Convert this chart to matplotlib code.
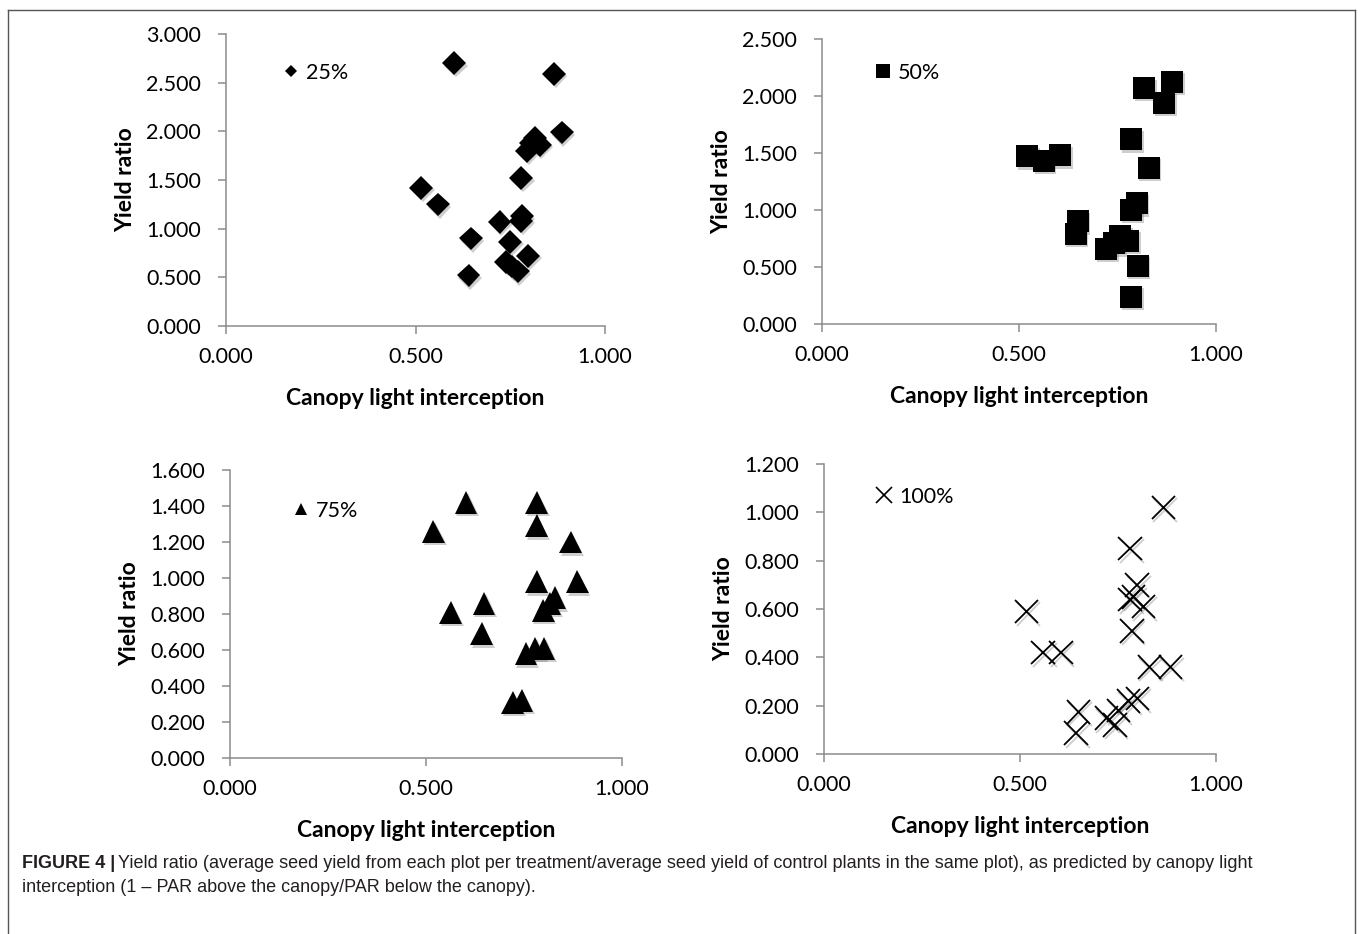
import matplotlib
matplotlib.use("Agg")
import matplotlib.pyplot as plt
import matplotlib.patheffects as pe
from matplotlib.lines import Line2D

# canopy light interception (x) and yield ratio (y), one pair of lists per treatment
x_25 = [0.602, 0.865, 0.886, 0.815, 0.828, 0.805, 0.794, 0.779, 0.515, 0.559,
        0.722, 0.781, 0.779, 0.646, 0.750, 0.797, 0.739, 0.755, 0.770, 0.640]
y_25 = [2.70, 2.59, 1.99, 1.93, 1.86, 1.88, 1.80, 1.52, 1.42, 1.25,
        1.07, 1.13, 1.08, 0.90, 0.865, 0.72, 0.66, 0.61, 0.56, 0.52]

x_50 = [0.888, 0.817, 0.868, 0.784, 0.829, 0.521, 0.563, 0.604, 0.799, 0.784,
        0.649, 0.644, 0.722, 0.756, 0.777, 0.741, 0.801, 0.784]
y_50 = [2.125, 2.07, 1.94, 1.62, 1.37, 1.47, 1.43, 1.48, 1.06, 1.00,
        0.90, 0.79, 0.66, 0.77, 0.73, 0.71, 0.51, 0.24]

x_75 = [0.602, 0.782, 0.519, 0.782, 0.869, 0.782, 0.886, 0.829, 0.816, 0.799,
        0.648, 0.563, 0.642, 0.801, 0.778, 0.755, 0.744, 0.721]
y_75 = [1.42, 1.42, 1.26, 1.29, 1.20, 0.98, 0.98, 0.89, 0.86, 0.82,
        0.86, 0.81, 0.69, 0.61, 0.61, 0.58, 0.32, 0.31]

x_100 = [0.866, 0.781, 0.799, 0.781, 0.815, 0.790, 0.785, 0.517, 0.559, 0.604,
         0.830, 0.884, 0.649, 0.643, 0.800, 0.777, 0.751, 0.721, 0.742]
y_100 = [1.02, 0.85, 0.70, 0.64, 0.61, 0.65, 0.51, 0.59, 0.42, 0.42,
         0.36, 0.36, 0.175, 0.086, 0.23, 0.22, 0.18, 0.148, 0.12]

x_ticks = [0.0, 0.5, 1.0]
y_ticks_25 = [0.0, 0.5, 1.0, 1.5, 2.0, 2.5, 3.0]
y_ticks_50 = [0.0, 0.5, 1.0, 1.5, 2.0, 2.5]
y_ticks_75 = [0.0, 0.2, 0.4, 0.6, 0.8, 1.0, 1.2, 1.4, 1.6]
y_ticks_100 = [0.0, 0.2, 0.4, 0.6, 0.8, 1.0, 1.2]

caption_bold = "FIGURE 4 |"
caption_1 = ("Yield ratio (average seed yield from each plot per treatment/average seed yield of "
             "control plants in the same plot), as predicted by canopy light")
caption_2 = "interception (1 \u2013 PAR above the canopy/PAR below the canopy)."

W, H = 1360, 934
fig = plt.figure(figsize=(W / 100, H / 100), dpi=100)
plt.rcParams['font.family'] = ['Lato', 'DejaVu Sans']

grey = "#8c8c8c"


def px_axes(x0, x1, y0, y1):
    # pixel box (left, right, bottom-of-axis, top-of-axis) -> figure fraction
    return fig.add_axes([x0 / W, 1 - y0 / H, (x1 - x0) / W, (y0 - y1) / H])


def style(ax, yticks):
    ax.set_xlim(0, 1)
    ax.set_ylim(0, yticks[-1])
    ax.set_xticks(x_ticks)
    ax.set_yticks(yticks)
    ax.set_xticklabels([f"{v:.3f}" for v in x_ticks])
    ax.set_yticklabels([f"{v:.3f}" for v in yticks])
    for s in ["top", "right"]:
        ax.spines[s].set_visible(False)
    for s in ["left", "bottom"]:
        ax.spines[s].set_color(grey)
        ax.spines[s].set_linewidth(1.1)
    ax.tick_params(direction="out", length=6, width=1.1, color=grey,
                   labelsize=15.5, labelcolor="black")
    ax.tick_params(axis="y", pad=12)
    ax.tick_params(axis="x", pad=9)
    ax.set_xlabel("Canopy light interception", fontsize=16.5, fontweight="bold", labelpad=15)
    ax.set_ylabel("Yield ratio", fontsize=16.5, fontweight="bold", labelpad=7)


shadow_fill = [pe.SimplePatchShadow(offset=(1.2, -1.8), shadow_rgbFace="0.45", alpha=0.35), pe.Normal()]
shadow_line = [pe.SimpleLineShadow(offset=(1.2, -1.8), shadow_color="0.45", alpha=0.35), pe.Normal()]

panels = [
    (px_axes(226, 605, 326, 34), x_25, y_25, "D", 12, y_ticks_25, "25%", 6, (280, 73)),
    (px_axes(822, 1216, 324, 39), x_50, y_50, "s", 15.8, y_ticks_50, "50%", 10, (872, 73)),
    (px_axes(230, 622, 758, 470), x_75, y_75, "^", 16.5, y_ticks_75, "75%", 9, (290, 511)),
    (px_axes(824, 1216, 754, 464), x_100, y_100, "x", 17, y_ticks_100, "100%", 12, (873, 497)),
]

for ax, xs, ys, mk, ms, yticks, lab, lms, (lx, ly) in panels:
    line, = ax.plot(xs, ys, linestyle="none", marker=mk, markersize=ms,
                    color="black", markeredgewidth=1.3 if mk == "x" else 0, clip_on=False)
    line.set_path_effects(shadow_line if mk == "x" else shadow_fill)
    style(ax, yticks)
    handle = Line2D([], [], linestyle="none", marker=mk, markersize=lms, color="black",
                    markeredgewidth=1.2 if mk == "x" else 0)
    ax.legend([handle], [lab], loc="center left", bbox_to_anchor=(lx / W, 1 - ly / H),
              bbox_transform=fig.transFigure, frameon=False, fontsize=15.5,
              handlelength=1.0, handletextpad=0.2, borderpad=0, borderaxespad=0)

# outer frame (open at the bottom, as in the source figure)
frame_kw = dict(color="#555555", linewidth=1.0, transform=fig.transFigure)
fig.add_artist(Line2D([8 / W, 1355 / W], [1 - 10 / H, 1 - 10 / H], **frame_kw))
fig.add_artist(Line2D([8 / W, 8 / W], [1 - 10 / H, 0], **frame_kw))
fig.add_artist(Line2D([1355 / W, 1355 / W], [1 - 10 / H, 0], **frame_kw))

cap_font = ['Liberation Sans Narrow', 'Liberation Sans', 'DejaVu Sans']
t = fig.text(22 / W, 1 - 864 / H, caption_bold, family=cap_font, fontsize=13,
             fontweight="bold", color="#231f20", va="center")
fig.canvas.draw()
bb = t.get_window_extent()
fig.text((bb.x1 + 3) / W, 1 - 864 / H, caption_1, family=cap_font, fontsize=13,
         color="#231f20", va="center")
fig.text(22 / W, 1 - 888 / H, caption_2, family=cap_font, fontsize=13,
         color="#231f20", va="center")

fig.savefig("out.png", dpi=100)
